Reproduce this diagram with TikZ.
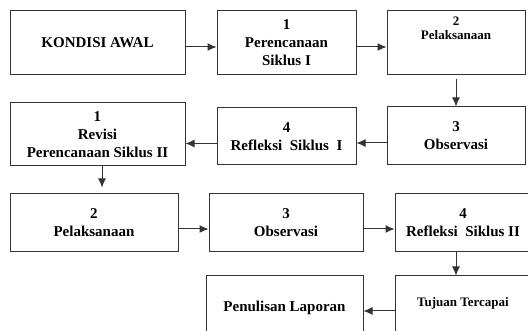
\documentclass[tikz,border=0pt]{standalone}
\usepackage{fontspec}
\setmainfont{Liberation Serif}
\usetikzlibrary{arrows.meta}

\begin{document}
\begin{tikzpicture}[x=1pt,y=-1pt,
    box/.style={draw=black!80,line width=1pt,align=center,inner sep=0pt,
      font=\fontsize{15}{18}\selectfont\bfseries},
    smalltxt/.style={align=center,font=\fontsize{13}{14}\selectfont\bfseries},
    arr/.style={-{Latex[length=9pt,width=8pt]},draw=black!80,line width=1pt}]
    \useasboundingbox (0,0) rectangle (528,331);
    \clip (0,0) rectangle (528,331);

    \node[box,minimum width=175pt,minimum height=64pt] (awal) at (97.5,43) {KONDISI AWAL};
    \node[box,minimum width=139pt,minimum height=64pt] (per1) at (286.5,43) {1\\Perencanaan\\Siklus I};
    \node[box,minimum width=138pt,minimum height=64pt,
      label={[smalltxt,anchor=north,yshift=-3pt]north:{2\\Pelaksanaan}}] (pel1) at (456,43) {};

    \node[box,minimum width=138pt,minimum height=58pt] (obs1) at (456,136) {3\\Observasi};
    \node[box,minimum width=139pt,minimum height=57pt] (ref1) at (286.5,136.5) {4\\Refleksi\ \ Siklus\ \ I};
    \node[box,minimum width=175pt,minimum height=63pt] (revisi) at (97.5,134.5) {1\\Revisi\\Perencanaan Siklus II};

    \node[box,minimum width=168pt,minimum height=58pt] (pel2) at (94,223) {2\\Pelaksanaan};
    \node[box,minimum width=154pt,minimum height=58pt] (obs2) at (286,223) {3\\Observasi};
    \node[box,minimum width=136pt,minimum height=58pt] (ref2) at (463,223) {4\\Refleksi\ \ Siklus II};

    \node[box,minimum width=136pt,minimum height=70pt,
      label={[smalltxt,anchor=north,yshift=-18pt]north:Tujuan Tercapai}] (tujuan) at (463,311) {};
    \node[box,minimum width=157pt,minimum height=64pt] (penulisan) at (284.5,308) {Penulisan Laporan};

    \draw[arr] ([yshift=-4pt]awal.east) -- ([yshift=-4pt]per1.west);
    \draw[arr] ([yshift=-4pt]per1.east) -- ([yshift=-4pt]pel1.west);
    \draw[arr,shorten <=4pt] (pel1.south) -- (obs1.north);

    \draw[arr] ([yshift=-7pt]obs1.west) -- ([yshift=-7pt]obs1.west -| ref1.east);
    \draw[arr] ([yshift=-7pt]ref1.west) -- ([yshift=-7pt]ref1.west -| revisi.east);
    \draw[arr,shorten >=6pt] ([xshift=4.5pt]revisi.south) -- ([xshift=4.5pt]revisi.south |- pel2.north);

    \draw[arr] ([yshift=-6pt]pel2.east) -- ([yshift=-6pt]pel2.east -| obs2.west);
    \draw[arr] ([yshift=-6pt]obs2.east) -- ([yshift=-6pt]obs2.east -| ref2.west);
    \draw[arr] ([xshift=-7pt]ref2.south) -- ([xshift=-7pt]ref2.south |- tujuan.north);

    \draw[arr] (tujuan.west) -- (tujuan.west -| penulisan.east);
\end{tikzpicture}
\end{document}
